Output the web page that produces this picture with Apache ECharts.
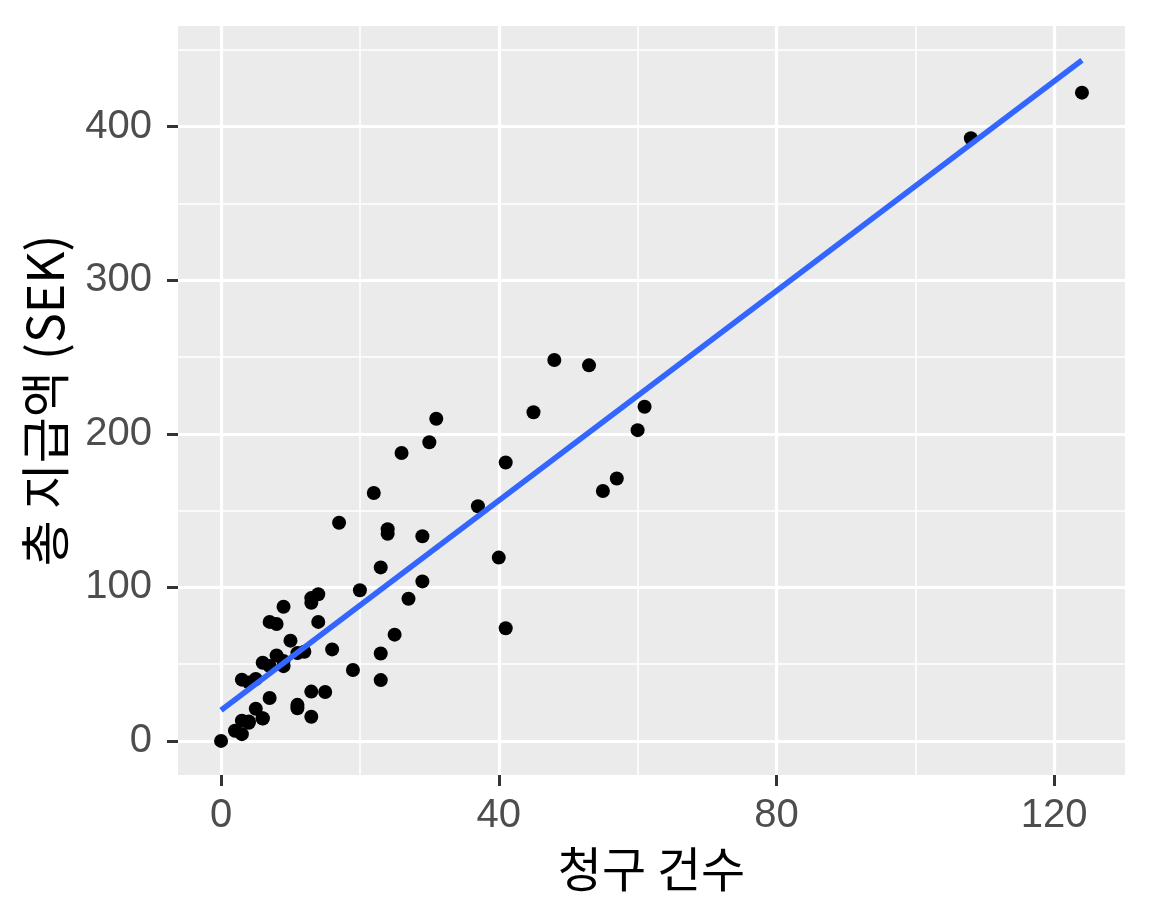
<!DOCTYPE html>
<html><head><meta charset="utf-8">
<script src="https://cdn.jsdelivr.net/npm/echarts@6/dist/echarts.min.js"></script>
<style>html,body{margin:0;padding:0;background:#fff}#c{width:1152px;height:922px}</style>
</head><body><div id="c"></div>
<script>
// Number of claims (x) and total payment in thousand SEK (y)
const claims = [108,19,13,124,40,57,23,14,45,10,5,48,11,23,7,2,24,6,3,23,6,9,9,3,29,7,4,20,7,4,0,25,6,5,22,11,61,12,4,16,13,60,41,37,55,41,11,27,8,3,17,13,13,15,8,29,30,24,9,31,14,53,26];
const payment = [392.5,46.2,15.7,422.2,119.4,170.9,56.9,77.5,214,65.3,20.9,248.1,23.5,39.6,48.8,6.6,134.9,50.9,4.4,113,14.8,48.7,52.1,13.2,103.9,77.5,11.8,98.1,27.9,38.1,0,69.2,14.6,40.3,161.5,57.2,217.6,58.1,12.6,59.6,89.9,202.4,181.3,152.8,162.8,73.4,21.3,92.6,76.1,39.9,142.1,93,32.1,31.9,55.6,133.3,194.5,137.9,87.4,209.8,95.5,244.6,187.5];
// Fitted line endpoints
const fitX = [0, 124];
const fitY = [20.0, 443.3];
const xTicks = [0, 40, 80, 120];
const xMinor = [20, 60, 100];
const yTicks = [0, 100, 200, 300, 400];
const yMinor = [50, 150, 250, 350, 450];
const xTitle = '청구 건수';
const yTitle = '총 지급액 (SEK)';

const pts = claims.map((x, i) => [x, payment[i]]);
const fit = fitX.map((x, i) => [x, fitY[i]]);
const major = {color: '#ffffff', width: 3.2, type: 'solid'};
const minor = {color: '#ffffff', width: 1.6, type: 'solid'};
const gridLines = [].concat(
  xMinor.map(v => ({xAxis: v, lineStyle: minor})),
  yMinor.map(v => ({yAxis: v, lineStyle: minor})),
  xTicks.map(v => ({xAxis: v, lineStyle: major})),
  yTicks.map(v => ({yAxis: v, lineStyle: major}))
);
const labelFont = {fontFamily: 'Liberation Sans', fontSize: 40, color: '#4D4D4D'};
const chart = echarts.init(document.getElementById('c'), null, {renderer: 'canvas'});
chart.setOption({
  animation: false,
  backgroundColor: '#ffffff',
  grid: {left: 178, right: 27, top: 26, bottom: 147, show: true, backgroundColor: '#EBEBEB', borderWidth: 0},
  xAxis: {
    type: 'value', min: -6.2, max: 130.2,
    name: xTitle, nameLocation: 'middle', nameGap: 70,
    nameTextStyle: {fontFamily: 'Noto Sans CJK KR', fontSize: 48, color: '#000'},
    axisLine: {show: false, onZero: false},
    axisTick: {show: true, customValues: xTicks, length: 11, lineStyle: {color: '#333', width: 3}},
    axisLabel: Object.assign({customValues: xTicks, margin: 21}, labelFont),
    splitLine: {show: false}
  },
  yAxis: {
    type: 'value', min: -22.2, max: 465.6,
    name: yTitle, nameLocation: 'middle', nameGap: 108,
    nameTextStyle: {fontFamily: 'Noto Sans CJK KR', fontSize: 50, color: '#000'},
    axisLine: {show: false, onZero: false},
    axisTick: {show: true, customValues: yTicks, length: 11, lineStyle: {color: '#333', width: 3}},
    axisLabel: Object.assign({customValues: yTicks, margin: 26}, labelFont),
    splitLine: {show: false}
  },
  series: [
    {type: 'line', data: [], silent: true, z: 1,
     markLine: {silent: true, z: 1, symbol: ['none', 'none'], label: {show: false}, data: gridLines, animation: false}},
    {type: 'scatter', data: pts, symbolSize: 14, itemStyle: {color: '#000', opacity: 1}, z: 3},
    {type: 'line', data: fit, showSymbol: false, symbol: 'none', lineStyle: {color: '#3366FF', width: 5.5}, z: 4}
  ]
});
</script></body></html>
